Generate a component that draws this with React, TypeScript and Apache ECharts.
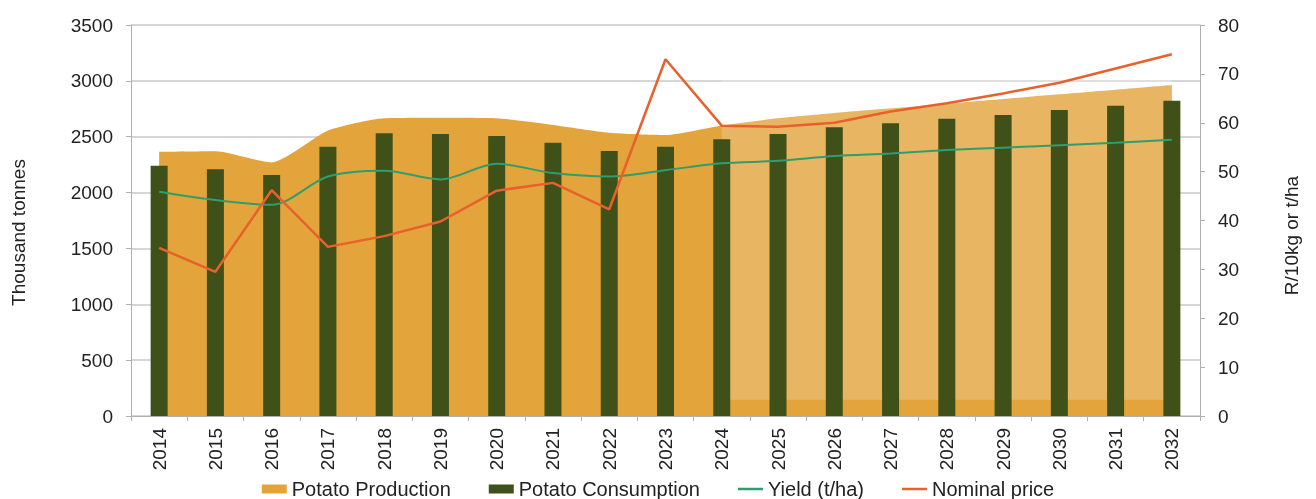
import React, { useEffect, useRef } from "react";
import * as echarts from "echarts";

const years = ["2014","2015","2016","2017","2018","2019","2020","2021","2022","2023","2024","2025","2026","2027","2028","2029","2030","2031","2032"];
const production = [2365, 2370, 2270, 2555, 2665, 2670, 2665, 2605, 2535, 2515, 2600, 2665, 2712, 2754, 2796, 2838, 2880, 2921, 2963];
const consumption = [2240, 2208, 2157, 2410, 2530, 2524, 2506, 2446, 2372, 2410, 2477, 2524, 2584, 2620, 2661, 2694, 2739, 2778, 2822];
const yieldTHa = [45.9, 44.2, 43.2, 49.0, 50.2, 48.4, 51.6, 49.7, 49.0, 50.3, 51.7, 52.2, 53.2, 53.7, 54.4, 54.9, 55.4, 55.9, 56.5];
const nominalPrice = [34.4, 29.5, 46.2, 34.6, 36.8, 39.8, 46.1, 47.7, 42.3, 73.0, 59.4, 59.2, 60.0, 62.3, 64.0, 66.0, 68.2, 71.1, 74.0];
const projectionStart = "2024";
const projectionEnd = "2032";

const FONT = "'Liberation Sans', Arial, sans-serif";
const LINE_ICON = "path://M0,0H25V2.5H0Z";

export default function App() {
  const ref = useRef<HTMLDivElement>(null);
  useEffect(() => {
    if (!ref.current) return;
    const chart = echarts.init(ref.current, null, { renderer: "svg" });
    chart.setOption({
      animation: false,
      textStyle: { fontFamily: FONT },
      grid: { left: 131, right: 116, top: 25, bottom: 83 },
      legend: {
        top: 474,
        left: "center",
        itemGap: 38,
        itemWidth: 25,
        itemHeight: 9,
        symbolKeepAspect: true,
        textStyle: { fontSize: 20, color: "#222", fontFamily: FONT },
        data: [
          { name: "Potato Production", icon: "rect" },
          { name: "Potato Consumption", icon: "rect" },
          { name: "Yield (t/ha)", icon: LINE_ICON },
          { name: "Nominal price", icon: LINE_ICON },
        ],
      },
      xAxis: {
        type: "category",
        data: years,
        boundaryGap: true,
        axisLine: { show: true, lineStyle: { color: "#b0b0b0" } },
        axisTick: { show: true, alignWithLabel: false, length: 5, lineStyle: { color: "#b0b0b0" } },
        axisLabel: { rotate: 90, fontSize: 19, color: "#222", margin: 12, fontFamily: FONT },
      },
      yAxis: [
        {
          type: "value",
          min: 0,
          max: 3500,
          interval: 500,
          name: "Thousand tonnes",
          nameLocation: "middle",
          nameGap: 103,
          nameTextStyle: { fontSize: 19, color: "#222", fontFamily: FONT, padding: [0, 24, 0, 0] },
          axisLine: { show: true, lineStyle: { color: "#b0b0b0" } },
          axisTick: { show: true, length: 5, lineStyle: { color: "#b0b0b0" } },
          axisLabel: { fontSize: 19, color: "#222", margin: 18, fontFamily: FONT, formatter: (v: number) => String(v) },
          splitLine: { show: true, lineStyle: { color: "#c8c8c8", width: 1.5 } },
        },
        {
          type: "value",
          min: 0,
          max: 80,
          interval: 10,
          position: "right",
          name: "R/10kg or t/ha",
          nameLocation: "middle",
          nameGap: 82,
          nameRotate: 90,
          nameTextStyle: { fontSize: 19, color: "#222", fontFamily: FONT, padding: [0, 30, 0, 0] },
          axisLine: { show: true, lineStyle: { color: "#b0b0b0" } },
          axisTick: { show: true, length: 5, lineStyle: { color: "#b0b0b0" } },
          axisLabel: { fontSize: 19, color: "#222", margin: 18, fontFamily: FONT },
          splitLine: { show: false },
        },
      ],
      series: [
        {
          name: "Potato Production",
          type: "line",
          data: production,
          yAxisIndex: 0,
          symbol: "none",
          smooth: 0.2,
          lineStyle: { width: 0, color: "#e3a43b" },
          itemStyle: { color: "#e3a43b" },
          areaStyle: { color: "#e3a43b", opacity: 1 },
          z: 1,
        },
        {
          name: "Potato Consumption",
          type: "bar",
          data: consumption,
          yAxisIndex: 0,
          barWidth: 17,
          itemStyle: { color: "#3f5118" },
          z: 3,
        },
        {
          name: "Yield (t/ha)",
          type: "line",
          data: yieldTHa,
          yAxisIndex: 1,
          symbol: "none",
          smooth: 0.3,
          lineStyle: { width: 2, color: "#2e9e6e" },
          itemStyle: { color: "#2e9e6e" },
          z: 5,
          markArea: {
            silent: true,
            z: 2,
            itemStyle: { color: "rgba(255,255,255,0.2)" },
            data: [[{ xAxis: projectionStart, yAxis: 78.6 }, { xAxis: projectionEnd, yAxis: 3.3 }]],
          },
        },
        {
          name: "Nominal price",
          type: "line",
          data: nominalPrice,
          yAxisIndex: 1,
          symbol: "none",
          lineStyle: { width: 2.5, color: "#e8602c" },
          itemStyle: { color: "#e8602c" },
          z: 6,
        },
      ],
    });
    return () => chart.dispose();
  }, []);
  return <div ref={ref} style={{ position: "fixed", left: 0, top: 0, width: 1316, height: 499 }} />;
}
